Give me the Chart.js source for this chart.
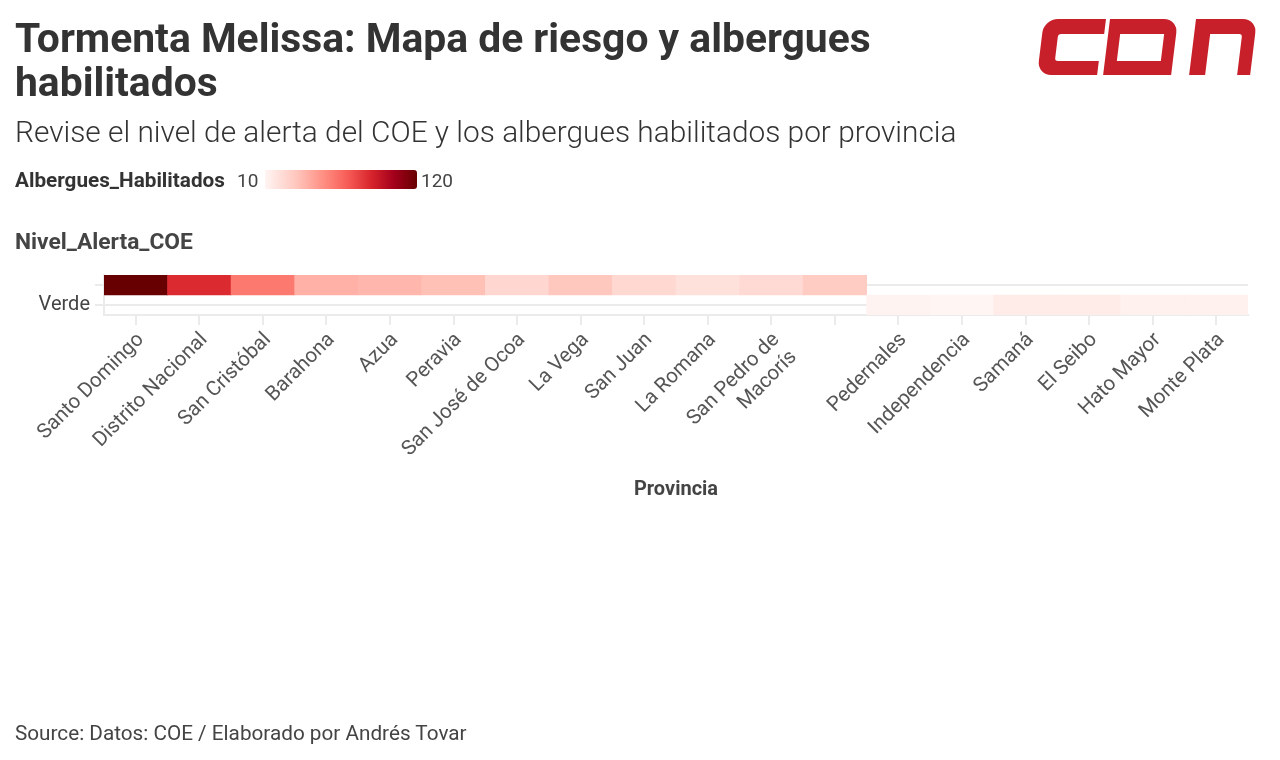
<!DOCTYPE html>
<html><head><meta charset="utf-8">
<script src="https://cdn.jsdelivr.net/npm/chart.js@4.4.1/dist/chart.umd.min.js"></script>
<style>
html,body{margin:0;padding:0;background:#fff;width:1280px;height:760px;overflow:hidden;font-family:Roboto, sans-serif;color:#333}
.t{position:absolute;white-space:nowrap;line-height:1}
#c{position:absolute;left:0;top:0}
</style></head><body>
<canvas id="c" width="1280" height="760"></canvas>
<div class="t" id="title1" style="left:15px;font-weight:700;font-size:38px;color:#333">Tormenta Melissa: Mapa de riesgo y albergues</div>
<div class="t" id="title2" style="left:15px;font-weight:700;font-size:38px;color:#333">habilitados</div>
<div class="t" id="sub" style="left:15px;font-weight:300;font-size:26px;color:#333">Revise el nivel de alerta del COE y los albergues habilitados por provincia</div>
<div class="t" id="legTitle" style="left:15px;font-weight:700;font-size:18px;color:#333">Albergues_Habilitados</div>
<div class="t" id="legMin" style="left:237px;font-weight:400;font-size:19px;color:#444"></div>
<div id="legBar" style="position:absolute;left:265px;top:170px;width:152px;height:19px;border-radius:0 3px 3px 0"></div>
<div class="t" id="legMax" style="left:421px;font-weight:400;font-size:19px;color:#444"></div>
<div class="t" id="yTitle" style="left:15px;font-weight:700;font-size:20px;color:#444">Nivel_Alerta_COE</div>
<div class="t" id="source" style="left:15px;font-weight:400;font-size:20px;color:#444">Source: Datos: COE / Elaborado por Andrés Tovar</div>
<svg style="position:absolute;left:0;top:0" width="1280" height="100">
<g transform="translate(1044,19) skewX(-7)" fill="#c8202a">
<path d="M62,0 H14 A14,14 0 0 0 0,14 V42 A14,14 0 0 0 14,56 H60 V42 H19 A3,3 0 0 1 16,39 V18 A3,3 0 0 1 19,15 H62 Z"/>
<path fill-rule="evenodd" d="M66,0 H120 A14,14 0 0 1 134,14 V56 H66 Z M78,15 V42 H122 V15 Z"/>
<path d="M152,56 V0 H199 A14,14 0 0 1 213,14 V56 H200 V18 A3,3 0 0 0 197,15 H168 V56 Z"/>
</g></svg>
<script>
// ---- data ----
const provincias = ['Santo Domingo','Distrito Nacional','San Cristóbal','Barahona','Azua','Peravia','San José de Ocoa','La Vega','San Juan','La Romana','San Pedro de Macorís','','Pedernales','Independencia','Samaná','El Seibo','Hato Mayor','Monte Plata'];
const albergues = [120,85,60,40,38,35,25,32,24,20,23,30,11,10,15,15,12,12];
const nivelAlerta = ['','','','','','','','','','','','','Verde','Verde','Verde','Verde','Verde','Verde'];
const nivelesY = ['', 'Verde'];
const escalaMin = 10, escalaMax = 120;
const colorStops = [[0,'#fff5f3'],[0.2,'#ffc8bf'],[0.4,'#ff8a7e'],[0.55,'#f65a55'],[0.7,'#d7242c'],[0.85,'#a3001c'],[1,'#670000']];

function hex(c){return [1,3,5].map(i=>parseInt(c.substr(i,2),16));}
function colorFor(v){
  let t=(v-escalaMin)/(escalaMax-escalaMin); t=Math.max(0,Math.min(1,t));
  for(let i=1;i<colorStops.length;i++){
    if(t<=colorStops[i][0]){
      const [t0,c0]=colorStops[i-1],[t1,c1]=colorStops[i];
      const f=(t-t0)/(t1-t0), a=hex(c0), b=hex(c1);
      return 'rgb('+a.map((x,k)=>Math.round(x+(b[k]-x)*f)).join(',')+')';
    }
  }
  return colorStops[colorStops.length-1][1];
}

document.getElementById('legMin').textContent = escalaMin;
document.getElementById('legMax').textContent = escalaMax;
document.getElementById('legBar').style.background = 'linear-gradient(to right,' + colorStops.map(s=>s[1]+' '+(s[0]*100)+'%').join(',') + ')';

// ---- text fitting ----
function fitW(id, w){const el=document.getElementById(id);const fs=parseFloat(el.style.fontSize);const cw=el.getBoundingClientRect().width;const n=fs*w/cw;el.style.fontSize=n+'px';return n;}
function place(id, cy){const el=document.getElementById(id);const fs=parseFloat(el.style.fontSize);el.style.top=(cy-0.5*fs)+'px';}
const tfs = fitW('title1', 856); document.getElementById('title2').style.fontSize = tfs+'px';
fitW('sub', 942); fitW('legTitle', 210); fitW('yTitle', 178); fitW('source', 452);
place('title1', 38); place('title2', 82); place('sub', 132); place('legTitle', 180);
place('legMin', 180); place('legMax', 180); place('yTitle', 242); place('source', 733);

// ---- chart ----
const n = nivelesY.length;
const rangos = nivelAlerta.map(l => { const i = nivelesY.indexOf(l); return [n-1-i, n-i]; });
const etiquetas = provincias.map(p => p === 'San Pedro de Macorís' ? ['San Pedro de','Macorís'] : p);
const gridC = '#ebebeb';
new Chart(document.getElementById('c'), {
  type: 'bar',
  data: { labels: etiquetas, datasets: [{ data: rangos, backgroundColor: albergues.map(colorFor), borderWidth: 0, barPercentage: 1, categoryPercentage: 1 }] },
  options: {
    responsive: false, animation: false, devicePixelRatio: 1,
    layout: { padding: { left: 0, right: 32, top: 275, bottom: 258 } },
    plugins: { legend: { display: false }, tooltip: { enabled: false } },
    scales: {
      x: {
        grid: { drawOnChartArea: false, offset: false, color: gridC, tickLength: 10, lineWidth: 2 },
        border: { color: gridC, width: 2 },
        ticks: { maxRotation: 45, minRotation: 45, autoSkip: false, labelOffset: 5, font: { family: 'Roboto', size: 20.5 }, color: '#555', padding: 3 },
        title: { display: true, text: 'Provincia', font: { family: 'Roboto', size: 20, weight: 'bold' }, color: '#444', padding: 0 },
        afterFit(s) { s.height = 187; }
      },
      y: {
        min: 0, max: n,
        afterBuildTicks(s) { s.ticks = nivelesY.map((l, i) => ({ value: n - i - 0.5 })); },
        ticks: { callback(v) { return nivelesY[Math.round(n - 0.5 - v)]; }, font: { family: 'Roboto', size: 20 }, color: '#444', padding: 5 },
        grid: { color: gridC, lineWidth: 2, tickLength: 9 },
        border: { color: gridC, width: 2 },
        afterFit(s) { s.width = 104; }
      }
    }
  }
});
</script>
</body></html>
